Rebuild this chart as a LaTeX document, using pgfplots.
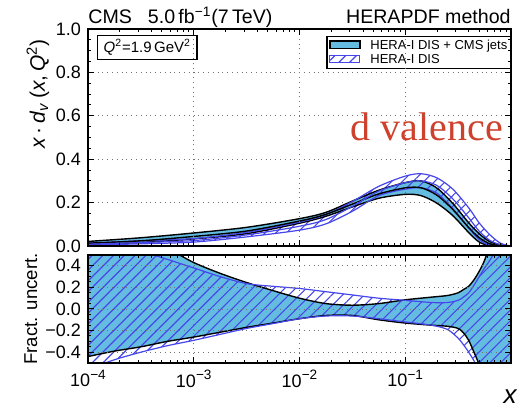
\documentclass[border=0pt]{standalone}
\usepackage{fontspec}
\setmainfont{Liberation Sans}
\newfontfamily\serifred{Liberation Serif}
\usepackage{pgfplots}
\usepackage{pgfplotstable}
\pgfplotsset{compat=1.18}
\usepgfplotslibrary{fillbetween}
\usetikzlibrary{patterns.meta}
\definecolor{bandcyan}{RGB}{100,189,224}
\definecolor{herablue}{RGB}{70,70,235}
\definecolor{labelred}{RGB}{205,65,45}

% x d_v(x,Q^2): CMS-jets band (cl,cu,cc), HERA-I band (hl,hu,hc)
\pgfplotstableread{
x        cl    cu    cc    hl    hu    hc
1e-4     0.007 0.021 0.013 0.004 0.013 0.008
3.162e-4 0.016 0.038 0.024 0.010 0.024 0.016
1e-3     0.033 0.060 0.044 0.018 0.034 0.025
3.162e-3 0.057 0.086 0.069 0.042 0.063 0.051
1e-2     0.105 0.126 0.115 0.073 0.110 0.091
1.778e-2 0.137 0.155 0.146 0.102 0.145 0.122
3.162e-2 0.180 0.207 0.193 0.160 0.205 0.183
5.623e-2 0.220 0.257 0.240 0.232 0.275 0.253
0.1      0.238 0.292 0.268 0.262 0.322 0.292
0.1413   0.232 0.300 0.268 0.268 0.333 0.300
0.1995   0.197 0.267 0.234 0.243 0.314 0.279
0.2818   0.140 0.196 0.168 0.172 0.262 0.217
0.3981   0.062 0.107 0.085 0.083 0.176 0.130
0.5012   0.018 0.056 0.038 0.030 0.106 0.068
0.631    0.001 0.020 0.010 0.002 0.052 0.026
0.7943   0.000 0.005 0.002 0.000 0.013 0.006
1        0.000 0.000 0.000 0.000 0.000 0.000
}\toptab

% fractional uncertainties
\pgfplotstableread{
x        u1    l1     u2    l2
1e-4     0.75  -0.44  0.75  -0.56
1.778e-4 0.70  -0.39  0.65  -0.47
3.162e-4 0.65  -0.35  0.54  -0.40
5.623e-4 0.56  -0.30  0.46  -0.34
1e-3     0.43  -0.26  0.38  -0.29
1.778e-3 0.33  -0.215 0.30  -0.235
3.162e-3 0.245 -0.17  0.235 -0.18
5.623e-3 0.17  -0.13  0.21  -0.135
1e-2     0.10  -0.09  0.19  -0.09
1.778e-2 0.05  -0.06  0.16  -0.065
3.162e-2 0.035 -0.06  0.13  -0.065
5.623e-2 0.05  -0.10  0.10  -0.09
0.1      0.085 -0.13  0.08  -0.12
0.1778   0.11  -0.15  0.06  -0.15
0.2512   0.125 -0.16  0.06  -0.19
0.3162   0.15  -0.18  0.08  -0.27
0.3548   0.18  -0.22  0.11  -0.33
0.3981   0.21  -0.29  0.15  -0.40
0.4467   0.27  -0.40  0.22  -0.48
0.5012   0.35  -0.52  0.30  -0.58
0.5623   0.45  -0.70  0.38  -0.75
0.631    0.60  -0.90  0.45  -0.90
0.7079   0.80  -1.00  0.55  -1.00
0.7943   1.00  -1.00  0.80  -1.00
1        1.00  -1.00  1.00  -1.00
}\fractab

\tikzset{pattband/.style={pattern={Lines[angle=45,distance=3.8pt,line width=0.55pt]}, pattern color=herablue}}
\newcommand{\tenpow}[1]{10\raisebox{0.42em}{\fontsize{6.8}{7}\selectfont−#1}}

\begin{document}
\begin{tikzpicture}

\begin{axis}[name=top, at={(0pt,0pt)}, anchor=south west,
  scale only axis, width=211.5pt, height=108.5pt,
  xmode=log, xmin=1e-4, xmax=1, ymin=0, ymax=1,
  axis on top,
  axis line style={line width=1pt},
  grid=major, grid style={dotted, black!55, line width=0.4pt},
  major tick length=3pt, minor tick length=1.6pt,
  tick style={black, line width=0.5pt},
  minor y tick num=3,
  xtick={1e-4,1e-3,1e-2,1e-1},
  minor xtick={2e-4,3e-4,4e-4,5e-4,6e-4,7e-4,8e-4,9e-4,
               2e-3,3e-3,4e-3,5e-3,6e-3,7e-3,8e-3,9e-3,
               2e-2,3e-2,4e-2,5e-2,6e-2,7e-2,8e-2,9e-2,
               0.2,0.3,0.4,0.5,0.6,0.7,0.8,0.9},
  ticklabel style={font=\fontsize{9}{10}\selectfont},
  ytick={0,0.2,0.4,0.6,0.8,1}, yticklabels={0.0,0.2,0.4,0.6,0.8,1.0},
  xticklabels={},
  ylabel={\textit{x}\,·\,\textit{d}\textsubscript{\textit{v}}\,(\textit{x},\,\textit{Q}\textsuperscript{2})},
  ylabel style={at={(axis description cs:-0.075,0.70)}, anchor=south,
    font=\fontsize{10.5}{12}\selectfont},
]
\addplot[name path=cu, smooth, black, line width=0.7pt] table[y=cu] {\toptab};
\addplot[name path=cl, smooth, black, line width=0.7pt] table[y=cl] {\toptab};
\addplot[fill=bandcyan, draw=none] fill between[of=cu and cl];
\addplot[name path=hu, smooth, herablue, line width=0.6pt] table[y=hu] {\toptab};
\addplot[name path=hl, smooth, herablue, line width=0.6pt] table[y=hl] {\toptab};
\addplot[pattband, draw=none] fill between[of=hu and hl];
\addplot[smooth, black, line width=0.7pt] table[y=cc] {\toptab};
\addplot[smooth, herablue, line width=0.6pt] table[y=hc] {\toptab};

\node[anchor=base west, inner sep=0pt, text=labelred,
  font=\serifred\fontsize{20}{22}\selectfont]
  at (axis description cs:0.62,0.484) {d valence};
\end{axis}

% titles
\node[anchor=base west, inner sep=0pt, font=\fontsize{9.8}{11}\selectfont]
  at ([yshift=2.5pt]top.north west) {CMS\hspace{8pt}5.0\,fb\textsuperscript{−1}(7\,TeV)};
\node[anchor=base east, inner sep=0pt, font=\fontsize{9.8}{11}\selectfont]
  at ([yshift=2.5pt]top.north east) {HERAPDF method};

% Q^2 box
\node[anchor=north west, draw=black, line width=0.6pt, fill=white,
  inner xsep=3pt, inner ysep=2pt, font=\fontsize{7.5}{8.5}\selectfont]
  at ([xshift=4.5pt,yshift=-3pt]top.north west)
  {\textit{Q}\textsuperscript{2}=1.9\,GeV\textsuperscript{2}};

% legend
\begin{scope}[shift={(top.north east)}]
  \draw[line width=0.6pt, fill=white] (-92pt,-3.7pt) rectangle (0pt,-19.8pt);
  \draw[fill=bandcyan, draw=black, line width=0.6pt] (-90.5pt,-9.6pt) rectangle (-75.5pt,-6pt);
  \node[anchor=base west, inner sep=0pt, font=\fontsize{6.5}{7.5}\selectfont]
    at (-70.5pt,-10.1pt) {HERA-I DIS + CMS jets};
  \draw[pattband, draw=herablue, line width=0.5pt] (-90.5pt,-16.8pt) rectangle (-75.5pt,-13.2pt);
  \node[anchor=base west, inner sep=0pt, font=\fontsize{6.5}{7.5}\selectfont]
    at (-70.5pt,-17.3pt) {HERA-I DIS};
\end{scope}

\begin{axis}[name=bot, at={(0pt,-4.5pt)}, anchor=north west,
  scale only axis, width=211.5pt, height=54pt,
  xmode=log, xmin=1e-4, xmax=1, ymin=-0.5, ymax=0.5,
  axis on top,
  axis line style={line width=1pt},
  grid=major, grid style={dotted, black!55, line width=0.4pt},
  major tick length=3pt, minor tick length=1.6pt,
  tick style={black, line width=0.5pt},
  minor y tick num=3,
  xtick={1e-4,1e-3,1e-2,1e-1},
  minor xtick={2e-4,3e-4,4e-4,5e-4,6e-4,7e-4,8e-4,9e-4,
               2e-3,3e-3,4e-3,5e-3,6e-3,7e-3,8e-3,9e-3,
               2e-2,3e-2,4e-2,5e-2,6e-2,7e-2,8e-2,9e-2,
               0.2,0.3,0.4,0.5,0.6,0.7,0.8,0.9},
  ticklabel style={font=\fontsize{9}{10}\selectfont},
  ytick={-0.4,-0.2,0,0.2,0.4}, yticklabels={−0.4,−0.2,0.0,0.2,0.4},
  xticklabels={\tenpow{4},\tenpow{3},\tenpow{2},\tenpow{1}},
  ylabel={Fract. uncert.},
  ylabel style={at={(axis description cs:-0.103,0.5)}, anchor=south,
    font=\fontsize{9.3}{11}\selectfont},
]
\addplot[name path=u1, smooth, black, line width=0.7pt] table[y=u1] {\fractab};
\addplot[name path=l1, smooth, black, line width=0.7pt] table[y=l1] {\fractab};
\addplot[fill=bandcyan, draw=none] fill between[of=u1 and l1];
\addplot[name path=u2, smooth, herablue, line width=0.6pt] table[y=u2] {\fractab};
\addplot[name path=l2, smooth, herablue, line width=0.6pt] table[y=l2] {\fractab};
\addplot[pattband, draw=none] fill between[of=u2 and l2];
\end{axis}

\node[anchor=base east, inner sep=0pt, font=\itshape\fontsize{13}{14}\selectfont]
  at ([xshift=3pt,yshift=-20.5pt]bot.south east) {x};
\useasboundingbox (-44pt,-83pt) rectangle (222pt,123pt);
\end{tikzpicture}
\end{document}
